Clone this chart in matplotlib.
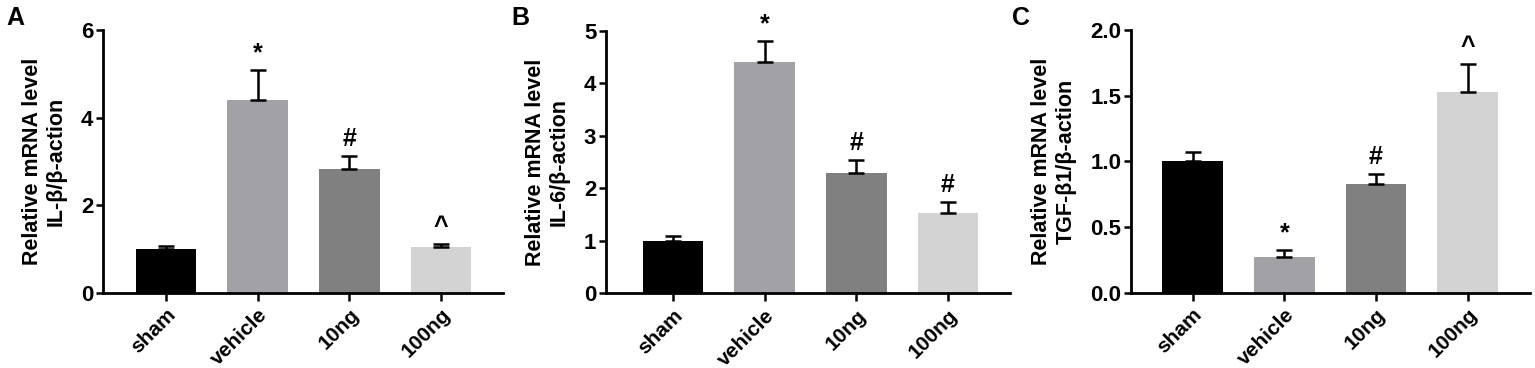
import matplotlib.pyplot as plt

plt.rcParams["font.family"] = ["Liberation Sans", "DejaVu Sans"]
plt.rcParams["font.weight"] = "bold"

groups = ["sham", "vehicle", "10ng", "100ng"]
bar_colors = ["#000000", "#a1a1a6", "#808080", "#d3d3d3"]

il1b_mean = [1.0, 4.40, 2.83, 1.04]
il1b_err = [0.06, 0.68, 0.29, 0.07]
il1b_marks = ["", "*", "#", "^"]

il6_mean = [1.0, 4.41, 2.29, 1.53]
il6_err = [0.10, 0.40, 0.25, 0.21]
il6_marks = ["", "*", "#", "#"]

tgf_mean = [1.0, 0.27, 0.826, 1.53]
tgf_err = [0.07, 0.055, 0.078, 0.21]
tgf_marks = ["", "*", "#", "^"]

panels = [
    ("A", "Relative mRNA level\nIL-β/β-action", il1b_mean, il1b_err, il1b_marks,
     (0, 6), [0, 2, 4, 6], "{:.0f}", [0.0671, 0.2046, 0.2606, 0.7139], (-0.687, 3.676)),
    ("B", "Relative mRNA level\nIL-6/β-action", il6_mean, il6_err, il6_marks,
     (0, 5), [0, 1, 2, 3, 4, 5], "{:.0f}", [0.3948, 0.2030, 0.2632, 0.7136], (-0.731, 3.676)),
    ("C", "Relative mRNA level\nTGF-β1/β-action", tgf_mean, tgf_err, tgf_marks,
     (0, 2), [0, 0.5, 1.0, 1.5, 2.0], "{:.1f}", [0.7368, 0.2046, 0.2599, 0.7139], (-0.673, 3.68)),
]

letter_x = [0.004, 0.333, 0.659]

fig = plt.figure(figsize=(15.35, 3.68), dpi=100)

for (letter, ylabel, means, errs, marks, ylim, yticks, fmt, rect, xlim), lx in zip(panels, letter_x):
    ax = fig.add_axes(rect)
    x = list(range(len(groups)))
    ax.bar(x, means, width=0.66, color=bar_colors, zorder=2)
    ax.errorbar(x, means, yerr=[[0] * len(errs), errs], fmt="none",
                ecolor="black", elinewidth=1.8, capsize=6, capthick=1.8, zorder=3)
    for xi, m, e, mk in zip(x, means, errs, marks):
        if mk:
            ax.annotate(mk, (xi, m + e), xytext=(0, 7), textcoords="offset points",
                        ha="center", va="baseline", fontsize=18, fontweight="bold",
                        annotation_clip=False)
    ax.set_ylim(*ylim)
    ax.set_xlim(*xlim)
    ax.set_yticks(yticks)
    ax.set_yticklabels([fmt.format(t) for t in yticks])
    ax.set_xticks(x)
    ax.set_xticklabels(groups, rotation=45, ha="right", rotation_mode="anchor")
    for side in ["top", "right"]:
        ax.spines[side].set_visible(False)
    for side in ["left", "bottom"]:
        ax.spines[side].set_linewidth(2)
    ax.tick_params(axis="y", length=5, width=1.8, labelsize=16, pad=2)
    ax.tick_params(axis="x", length=6, width=1.8, labelsize=15, pad=3)
    ax.set_ylabel(ylabel, fontsize=15.5, fontweight="bold", labelpad=10, linespacing=1.2)
    fig.text(lx, 0.985, letter, fontsize=18, fontweight="bold", va="top", ha="left")

fig.savefig("out.png", dpi=100)
